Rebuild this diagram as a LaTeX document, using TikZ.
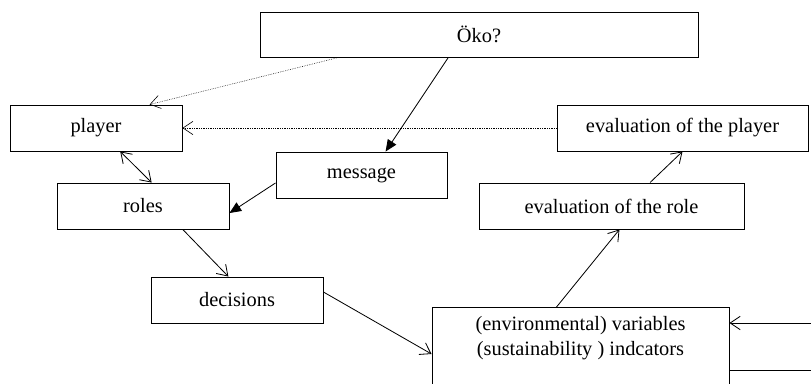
\documentclass[tikz,border=0pt]{standalone}
\usepackage{fontspec}
\setmainfont{Liberation Serif}
\usetikzlibrary{arrows.meta}
\usetikzlibrary{calc}

\begin{document}
\begin{tikzpicture}[x=0.03cm,y=-0.03cm]
  \tikzset{box/.style = {shape=rectangle,draw,line width=0.8pt,minimum height=1.38cm,inner sep=2pt,font=\fontsize{17.4}{20.5}\selectfont}}
  \tikzset{edge/.style = {line width=0.7pt}}
  \tikzset{hint/.style = {line width=0.5pt,densely dotted}}
  \tikzset{%
  tipA/.tip={Straight Barb[length=3mm,width=4mm]},
  tipB/.tip={Triangle[length=3.5mm,width=3mm]},
}

	\useasboundingbox (0,0) rectangle (811,383);

	\node[box,minimum width=13.14cm,minimum height=1.35cm] (oeko) at (479,34.5) {Öko?};
	\node[box,minimum width=5.16cm] (player) at (96,128) {player};
	\node[box,minimum width=5.13cm] (msg) at (361.5,175) {message};
	\node[box,minimum width=5.16cm] (roles) at (143,206) {roles};
	\node[box,minimum width=5.16cm] (dec) at (237,300) {decisions};
	\node[box,minimum width=7.53cm] (evp) at (682.5,128) {evaluation of the player};
	\node[box,minimum width=7.95cm] (evr) at (611.5,206) {evaluation of the role};
	\node[box,minimum width=8.91cm,align=center,anchor=north,inner ysep=8pt,text depth=1.7cm] (env) at (580.5,307) {(environmental) variables\\(sustainability ) indcators};

	\coordinate (inR) at (811,323);
	\coordinate (outR) at (811,370);

	\draw[hint,-tipA] ($(oeko.south west)!0.18!(oeko.south east)$) -- ($(player.north west)!0.81!(player.north east)$);
	\draw[hint,-tipA] (evp.west) -- (player.east);
	\draw[edge,-tipB] ($(oeko.south west)!0.43!(oeko.south east)$) -- ($(msg.north west)!0.64!(msg.north east)$);
	\draw[edge,-tipB] ($(msg.north west)!0.67!(msg.south west)$) -- ($(roles.north east)!0.65!(roles.south east)$);
	\draw[edge,tipA-tipA] ($(player.south west)!0.64!(player.south east)$) -- ($(roles.north west)!0.55!(roles.north east)$);
	\draw[edge,-tipA] ($(roles.south west)!0.73!(roles.south east)$) -- ($(dec.north west)!0.45!(dec.north east)$);
	\draw[edge,-tipA] ($(dec.north east)!0.33!(dec.south east)$) -- ($(env.north west)+(0,47)$);
	\draw[edge,-tipA] ($(env.north west)+(125,0)$) -- ($(evr.south west)!0.53!(evr.south east)$);
	\draw[edge,-tipA] ($(evr.north west)!0.645!(evr.north east)$) -- (evp.south);
	\draw[edge,-tipA] (inR) -- (inR -| env.east);
	\draw[edge] (outR -| env.east) -- (outR);

\end{tikzpicture}
\end{document}
